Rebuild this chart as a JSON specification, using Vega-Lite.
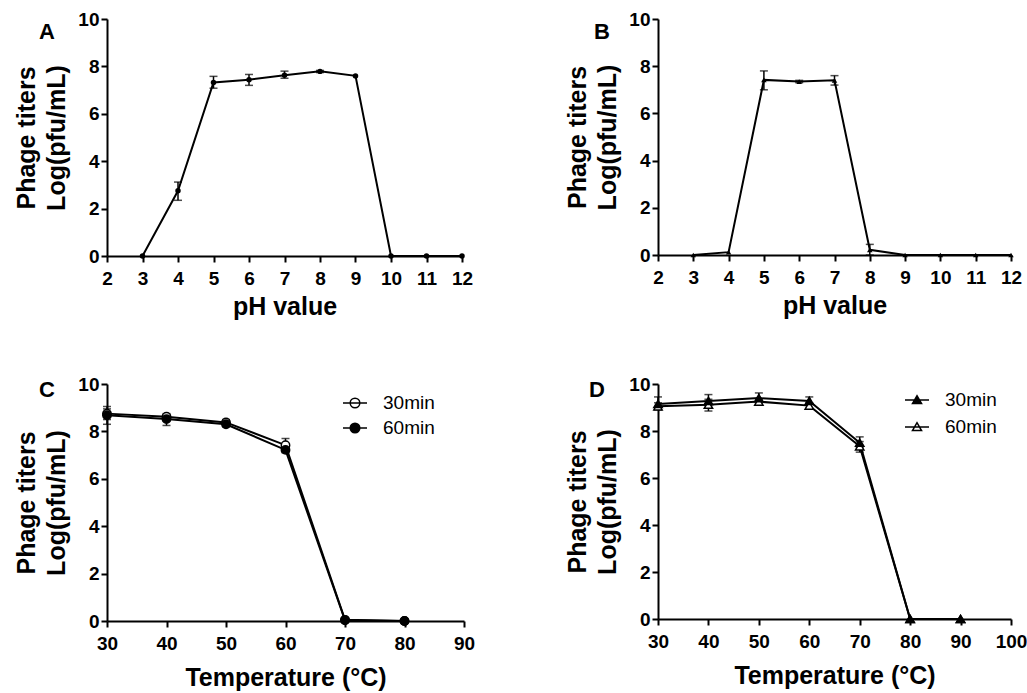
{
  "$schema": "https://vega.github.io/schema/vega-lite/v6.json",
  "padding": {"left": 14, "top": 10, "right": 5, "bottom": 5},
  "background": "white",
  "config": {
    "view": {"stroke": null},
    "font": "Liberation Sans",
    "axis": {"domainColor": "black", "domainWidth": 2, "tickColor": "black", "tickWidth": 2, "tickSize": 6, "labelColor": "black", "labelFont": "Liberation Sans", "labelFontSize": 19, "labelFontWeight": "bold", "titleColor": "black", "titleFont": "Liberation Sans", "titleFontSize": 25, "titleFontWeight": "bold", "grid": false, "labelFlush": false, "labelOverlap": false},
    "axisY": {"titlePadding": 8, "titleLineHeight": 30, "labelPadding": 2},
    "axisX": {"titlePadding": 6, "labelPadding": 7},
    "title": {"font": "Liberation Sans", "fontSize": 22, "fontWeight": "bold", "color": "black", "anchor": "start", "frame": "group"}
  },
  "datasets": {
    "A": [
      {"pH": 3, "titer": 0, "lo": 0, "hi": 0},
      {"pH": 4, "titer": 2.75, "lo": 2.35, "hi": 3.12},
      {"pH": 5, "titer": 7.32, "lo": 7.08, "hi": 7.58},
      {"pH": 6, "titer": 7.44, "lo": 7.2, "hi": 7.66},
      {"pH": 7, "titer": 7.63, "lo": 7.5, "hi": 7.8},
      {"pH": 8, "titer": 7.79, "lo": 7.74, "hi": 7.83},
      {"pH": 9, "titer": 7.6, "lo": 7.6, "hi": 7.6},
      {"pH": 10, "titer": 0, "lo": 0, "hi": 0},
      {"pH": 11, "titer": 0, "lo": 0, "hi": 0},
      {"pH": 12, "titer": 0, "lo": 0, "hi": 0}
    ],
    "B": [
      {"pH": 3, "titer": 0, "lo": 0, "hi": 0},
      {"pH": 4, "titer": 0.12, "lo": 0.12, "hi": 0.12},
      {"pH": 5, "titer": 7.42, "lo": 7.0, "hi": 7.8},
      {"pH": 6, "titer": 7.35, "lo": 7.3, "hi": 7.4},
      {"pH": 7, "titer": 7.4, "lo": 7.2, "hi": 7.6},
      {"pH": 8, "titer": 0.22, "lo": 0, "hi": 0.45},
      {"pH": 9, "titer": 0, "lo": 0, "hi": 0},
      {"pH": 10, "titer": 0, "lo": 0, "hi": 0},
      {"pH": 11, "titer": 0, "lo": 0, "hi": 0},
      {"pH": 12, "titer": 0, "lo": 0, "hi": 0}
    ],
    "C": [
      {"temp": 30, "time": "30min", "titer": 8.75, "lo": 8.5, "hi": 9.05},
      {"temp": 40, "time": "30min", "titer": 8.62, "lo": 8.45, "hi": 8.75},
      {"temp": 50, "time": "30min", "titer": 8.38, "lo": 8.25, "hi": 8.5},
      {"temp": 60, "time": "30min", "titer": 7.42, "lo": 7.2, "hi": 7.7},
      {"temp": 70, "time": "30min", "titer": 0.05, "lo": 0.05, "hi": 0.05},
      {"temp": 80, "time": "30min", "titer": 0, "lo": 0, "hi": 0},
      {"temp": 30, "time": "60min", "titer": 8.68, "lo": 8.3, "hi": 8.95},
      {"temp": 40, "time": "60min", "titer": 8.52, "lo": 8.25, "hi": 8.7},
      {"temp": 50, "time": "60min", "titer": 8.3, "lo": 8.2, "hi": 8.4},
      {"temp": 60, "time": "60min", "titer": 7.22, "lo": 7.1, "hi": 7.35},
      {"temp": 70, "time": "60min", "titer": 0.03, "lo": 0.03, "hi": 0.03},
      {"temp": 80, "time": "60min", "titer": 0, "lo": 0, "hi": 0}
    ],
    "D": [
      {"temp": 30, "time": "60min", "titer": 9.05, "lo": 8.9, "hi": 9.2},
      {"temp": 40, "time": "60min", "titer": 9.12, "lo": 8.85, "hi": 9.35},
      {"temp": 50, "time": "60min", "titer": 9.25, "lo": 9.15, "hi": 9.35},
      {"temp": 60, "time": "60min", "titer": 9.08, "lo": 8.95, "hi": 9.2},
      {"temp": 70, "time": "60min", "titer": 7.35, "lo": 7.1, "hi": 7.55},
      {"temp": 80, "time": "60min", "titer": 0, "lo": 0, "hi": 0},
      {"temp": 90, "time": "60min", "titer": 0, "lo": 0, "hi": 0},
      {"temp": 30, "time": "30min", "titer": 9.15, "lo": 9.0, "hi": 9.45},
      {"temp": 40, "time": "30min", "titer": 9.28, "lo": 9.1, "hi": 9.55},
      {"temp": 50, "time": "30min", "titer": 9.4, "lo": 9.25, "hi": 9.62},
      {"temp": 60, "time": "30min", "titer": 9.28, "lo": 9.15, "hi": 9.45},
      {"temp": 70, "time": "30min", "titer": 7.5, "lo": 7.3, "hi": 7.75},
      {"temp": 80, "time": "30min", "titer": 0, "lo": 0, "hi": 0},
      {"temp": 90, "time": "30min", "titer": 0, "lo": 0, "hi": 0}
    ]
  },
  "resolve": {"scale": {"fill": "independent"}, "legend": {"fill": "independent"}},
  "spacing": 56,
  "vconcat": [
    {
      "spacing": 92,
      "resolve": {"scale": {"fill": "independent"}, "legend": {"fill": "independent"}},
      "hconcat": [
        {
          "width": 355, "height": 237,
          "title": {"text": "A", "dx": -68, "dy": 15, "offset": -19, "baseline": "top"},
          "data": {"name": "A"},
          "encoding": {
            "x": {"field": "pH", "type": "quantitative", "scale": {"domain": [2, 12], "nice": false, "zero": false}, "axis": {"values": [2, 3, 4, 5, 6, 7, 8, 9, 10, 11, 12], "title": "pH value"}}
          },
          "layer": [
            {"mark": {"type": "line", "color": "black", "strokeWidth": 2}, "encoding": {"y": {"field": "titer", "type": "quantitative", "title": ["Phage titers", "Log(pfu/mL)"], "scale": {"domain": [0, 10], "nice": false}, "axis": {"values": [0, 2, 4, 6, 8, 10]}}}},
            {"transform": [{"filter": "datum.hi > datum.lo"}], "mark": {"type": "errorbar", "ticks": true, "size": 8, "thickness": 1.5, "color": "black"}, "encoding": {"y": {"field": "lo", "type": "quantitative", "title": ["Phage titers", "Log(pfu/mL)"]}, "y2": {"field": "hi"}}},
            {"mark": {"type": "point", "shape": "circle", "filled": true, "color": "black", "size": 30, "opacity": 1}, "encoding": {"y": {"field": "titer", "type": "quantitative", "title": ["Phage titers", "Log(pfu/mL)"]}}}
          ]
        },
        {
          "width": 353, "height": 236,
          "title": {"text": "B", "dx": -64, "dy": 15, "offset": -19, "baseline": "top"},
          "data": {"name": "B"},
          "encoding": {
            "x": {"field": "pH", "type": "quantitative", "scale": {"domain": [2, 12], "nice": false, "zero": false}, "axis": {"values": [2, 3, 4, 5, 6, 7, 8, 9, 10, 11, 12], "title": "pH value"}}
          },
          "layer": [
            {"mark": {"type": "line", "color": "black", "strokeWidth": 2}, "encoding": {"y": {"field": "titer", "type": "quantitative", "title": ["Phage titers", "Log(pfu/mL)"], "scale": {"domain": [0, 10], "nice": false}, "axis": {"values": [0, 2, 4, 6, 8, 10]}}}},
            {"transform": [{"filter": "datum.hi > datum.lo"}], "mark": {"type": "errorbar", "ticks": true, "size": 8, "thickness": 1.5, "color": "black"}, "encoding": {"y": {"field": "lo", "type": "quantitative", "title": ["Phage titers", "Log(pfu/mL)"]}, "y2": {"field": "hi"}}},
            {"mark": {"type": "point", "shape": "triangle-up", "filled": true, "color": "black", "size": 30, "opacity": 1}, "encoding": {"y": {"field": "titer", "type": "quantitative", "title": ["Phage titers", "Log(pfu/mL)"]}}}
          ]
        }
      ]
    },
    {
      "spacing": 90,
      "resolve": {"scale": {"fill": "independent"}, "legend": {"fill": "independent"}},
      "hconcat": [
        {
          "width": 357, "height": 237,
          "title": {"text": "C", "dx": -68, "dy": 8, "offset": -19, "baseline": "top"},
          "data": {"name": "C"},
          "encoding": {
            "x": {"field": "temp", "type": "quantitative", "scale": {"domain": [30, 90], "nice": false, "zero": false}, "axis": {"values": [30, 40, 50, 60, 70, 80, 90], "title": "Temperature (°C)", "titlePadding": 12}}
          },
          "layer": [
            {"mark": {"type": "line", "color": "black", "strokeWidth": 2}, "encoding": {"detail": {"field": "time"}, "y": {"field": "titer", "type": "quantitative", "title": ["Phage titers", "Log(pfu/mL)"], "scale": {"domain": [0, 10], "nice": false}, "axis": {"values": [0, 2, 4, 6, 8, 10]}}}},
            {"transform": [{"filter": "datum.hi > datum.lo"}], "mark": {"type": "errorbar", "ticks": true, "size": 8, "thickness": 1.5, "color": "black"}, "encoding": {"detail": {"field": "time"}, "y": {"field": "lo", "type": "quantitative", "title": ["Phage titers", "Log(pfu/mL)"]}, "y2": {"field": "hi"}}},
            {"mark": {"type": "point", "shape": "circle", "stroke": "black", "strokeWidth": 1.5, "size": 70, "opacity": 1}, "encoding": {"y": {"field": "titer", "type": "quantitative", "title": ["Phage titers", "Log(pfu/mL)"]}, "fill": {"field": "time", "type": "nominal", "scale": {"domain": ["30min", "60min"], "range": ["white", "black"]}, "legend": {"title": null, "orient": "none", "legendX": 235, "legendY": 6, "symbolType": "M-1,0H1M-0.4,0A0.4,0.4 0 1,1 0.4,0A0.4,0.4 0 1,1 -0.4,0Z", "symbolSize": 576, "symbolStrokeColor": "black", "symbolStrokeWidth": 1.5, "symbolOpacity": 1, "labelFont": "Liberation Sans", "labelFontSize": 19, "labelFontWeight": "normal", "labelColor": "black", "labelOffset": 15, "rowPadding": 2, "padding": 0}}}}
          ]
        },
        {
          "width": 353, "height": 235,
          "title": {"text": "D", "dx": -69, "dy": 8, "offset": -19, "baseline": "top"},
          "data": {"name": "D"},
          "encoding": {
            "x": {"field": "temp", "type": "quantitative", "scale": {"domain": [30, 100], "nice": false, "zero": false}, "axis": {"values": [30, 40, 50, 60, 70, 80, 90, 100], "title": "Temperature (°C)", "titlePadding": 12}}
          },
          "layer": [
            {"mark": {"type": "line", "color": "black", "strokeWidth": 2}, "encoding": {"detail": {"field": "time"}, "y": {"field": "titer", "type": "quantitative", "title": ["Phage titers", "Log(pfu/mL)"], "scale": {"domain": [0, 10], "nice": false}, "axis": {"values": [0, 2, 4, 6, 8, 10]}}}},
            {"transform": [{"filter": "datum.hi > datum.lo"}], "mark": {"type": "errorbar", "ticks": true, "size": 8, "thickness": 1.5, "color": "black"}, "encoding": {"detail": {"field": "time"}, "y": {"field": "lo", "type": "quantitative", "title": ["Phage titers", "Log(pfu/mL)"]}, "y2": {"field": "hi"}}},
            {"mark": {"type": "point", "shape": "triangle-up", "stroke": "black", "strokeWidth": 1.5, "size": 70, "opacity": 1}, "encoding": {"y": {"field": "titer", "type": "quantitative", "title": ["Phage titers", "Log(pfu/mL)"]}, "fill": {"field": "time", "type": "nominal", "scale": {"domain": ["30min", "60min"], "range": ["black", "white"]}, "legend": {"title": null, "orient": "none", "legendX": 246, "legendY": 3, "symbolType": "M-1,0H1M-0.38,0.3L0,-0.36L0.38,0.3Z", "symbolSize": 576, "symbolStrokeColor": "black", "symbolStrokeWidth": 1.5, "symbolOpacity": 1, "labelFont": "Liberation Sans", "labelFontSize": 19, "labelFontWeight": "normal", "labelColor": "black", "labelOffset": 15, "rowPadding": 4, "padding": 0}}}}
          ]
        }
      ]
    }
  ]
}
